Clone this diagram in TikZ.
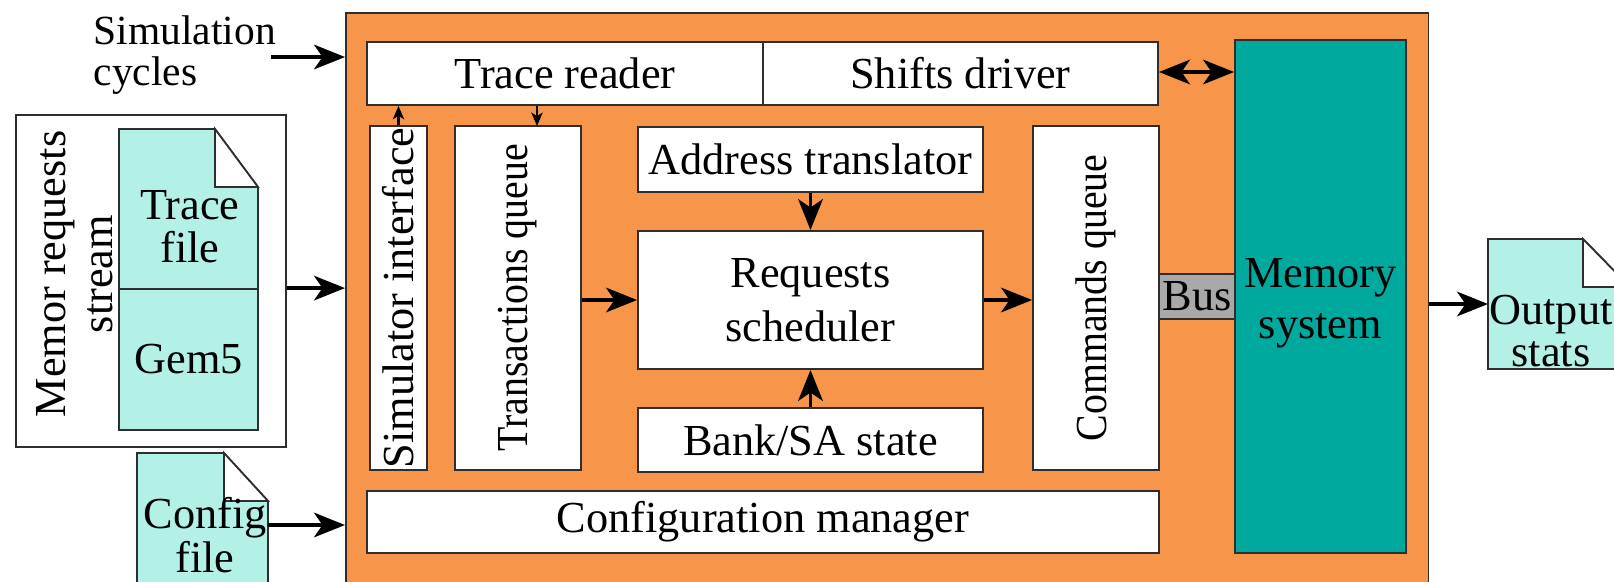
\documentclass[tikz,border=0pt]{standalone}
\usepackage{fontspec}
\setmainfont{Liberation Serif}
\usetikzlibrary{arrows.meta}
\definecolor{coreorange}{HTML}{F7964A}
\definecolor{memteal}{HTML}{00A99D}
\definecolor{doccyan}{HTML}{B3F0E6}
\definecolor{busgray}{HTML}{A9A9A9}
\definecolor{edgegray}{HTML}{2E2E2E}
\begin{document}
\begin{tikzpicture}[x=0.01cm,y=-0.01cm,
  every node/.style={font=\fontsize{12.6}{15}\selectfont},
  blk/.style={draw=edgegray, line width=0.5pt, fill=white, inner sep=0pt, align=center},
  bigarrow/.style={-{Stealth[length=8.8pt,width=7pt,inset=2.4pt]}, line width=1.05pt},
  dblarrow/.style={{Stealth[length=8.8pt,width=7pt,inset=2.4pt]}-{Stealth[length=8.8pt,width=7pt,inset=2.4pt]}, line width=1.05pt},
  smallarrow/.style={-{Stealth[length=3.8pt,width=3.2pt,inset=1pt]}, line width=0.6pt},
  docshape/.style={draw=edgegray, line width=0.5pt, fill=doccyan},
  foldshape/.style={draw=edgegray, line width=0.5pt, fill=white},
  txt/.style={inner sep=0pt, align=center},
]
\useasboundingbox (0,0) rectangle (1614,581);
\clip (0,0) rectangle (1614,581);

% core (orange) block
\node[draw=edgegray, line width=0.5pt, fill=coreorange, inner sep=0pt,
      minimum width=10.82cm, minimum height=5.88cm, anchor=north west] (core) at (345,12) {};

% inner blocks
\node[blk, minimum width=3.96cm, minimum height=0.63cm] (tr) at (565,73.5) {Trace reader};
\node[blk, minimum width=3.95cm, minimum height=0.63cm] (sd) at (960.5,73.5) {Shifts driver};
\node[blk, rotate=90, minimum width=3.44cm, minimum height=0.57cm] (si) at (398.5,298) {Simulator interface};
\node[blk, rotate=90, minimum width=3.44cm, minimum height=1.26cm] (tq) at (518,298) {\scalebox{0.9}[1]{Transactions queue}};
\node[blk, minimum width=3.45cm, minimum height=0.65cm] (at) at (810.5,159.5) {Address translator};
\node[blk, minimum width=3.45cm, minimum height=1.38cm, font=\fontsize{12.6}{15.2}\selectfont] (rs) at (810.5,300) {\raisebox{-3pt}{\shortstack{Requests\\[1pt]scheduler}}};
\node[blk, minimum width=3.45cm, minimum height=0.64cm] (bs) at (810.5,440) {Bank/SA state};
\node[blk, rotate=90, minimum width=3.44cm, minimum height=1.26cm] (cq) at (1096,298) {\scalebox{0.9}[1]{Commands queue}};
\node[blk, fill=busgray, minimum width=0.76cm, minimum height=0.45cm] (bus) at (1197,296.5) {Bus};
\node[blk, fill=memteal, minimum width=1.71cm, minimum height=5.13cm] (mem) at (1320.5,296.5) {};
\node[txt, font=\fontsize{12.6}{14.5}\selectfont] (memtxt) at (1320.5,303) {Memory\\system};
\node[blk, minimum width=7.92cm, minimum height=0.62cm] (cm) at (763,522) {Configuration manager};

% simulation cycles
\node[anchor=west, align=left, inner sep=0pt, font=\fontsize{11.8}{11.7}\selectfont] (simc) at (93,55) {Simulation\\cycles};
\coordinate (simcout) at (271,57);

% memory requests stream
\node[draw=edgegray, line width=0.5pt, fill=white, inner sep=0pt,
      minimum width=2.70cm, minimum height=3.32cm, anchor=north west] (streambox) at (15,114) {};
\node[txt, rotate=90, font=\fontsize{12.6}{13.4}\selectfont] (streamtxt) at (75,274) {Memor requests\\stream};
\draw[docshape] (119,289) -- (119,129) -- (215,129) -- (258,187) -- (258,289) -- cycle;
\draw[foldshape] (215,129) -- (215,187) -- (258,187) -- cycle;
\node[txt, font=\fontsize{12.6}{12.2}\selectfont] (tftxt) at (190,227) {Trace\\file};
\node[draw=edgegray, line width=0.5pt, fill=doccyan, inner sep=0pt,
      minimum width=1.39cm, minimum height=1.41cm] (gem) at (188.5,359.5) {Gem5};

% config file
\draw[docshape] (137,600) -- (137,453) -- (224,453) -- (268,501) -- (268,600) -- cycle;
\draw[foldshape] (224,453) -- (224,501) -- (268,501) -- cycle;
\node[txt, font=\fontsize{12.6}{10.2}\selectfont] (cftxt) at (205,535) {Config\\file};
\coordinate (cfout) at (268,525);

% output stats
\draw[docshape] (1488,369) -- (1488,239) -- (1583,239) -- (1630,287) -- (1630,369) -- cycle;
\draw[foldshape] (1583,239) -- (1583,287) -- (1630,287) -- cycle;
\node[txt, font=\fontsize{12.6}{11.7}\selectfont] (ostxt) at (1551,331) {Output\\stats};
\coordinate (osin) at (1488,304);

% small arrows
\coordinate (tqin) at (537,126);
\draw[smallarrow] (si.east) -- (si.east |- tr.south);
\draw[smallarrow] (tr.south -| tqin) -- (tqin);

% connectors
\coordinate (dbl) at (0,72);
\draw[bigarrow] (simcout) -- (simcout -| core.west);
\draw[bigarrow] (streambox.east |- gem.north) -- (gem.north -| core.west);
\draw[bigarrow] (cfout) -- (cfout -| core.west);
\draw[bigarrow] (tq.south |- rs.west) -- (rs.west);
\draw[bigarrow] (rs.east) -- (rs.east -| cq.north);
\draw[bigarrow] (at.south) -- (rs.north);
\draw[bigarrow] (bs.north) -- (rs.south);
\draw[dblarrow] (sd.east |- dbl) -- (mem.west |- dbl);
\draw[bigarrow] (osin -| core.east) -- (osin);
\end{tikzpicture}
\end{document}
